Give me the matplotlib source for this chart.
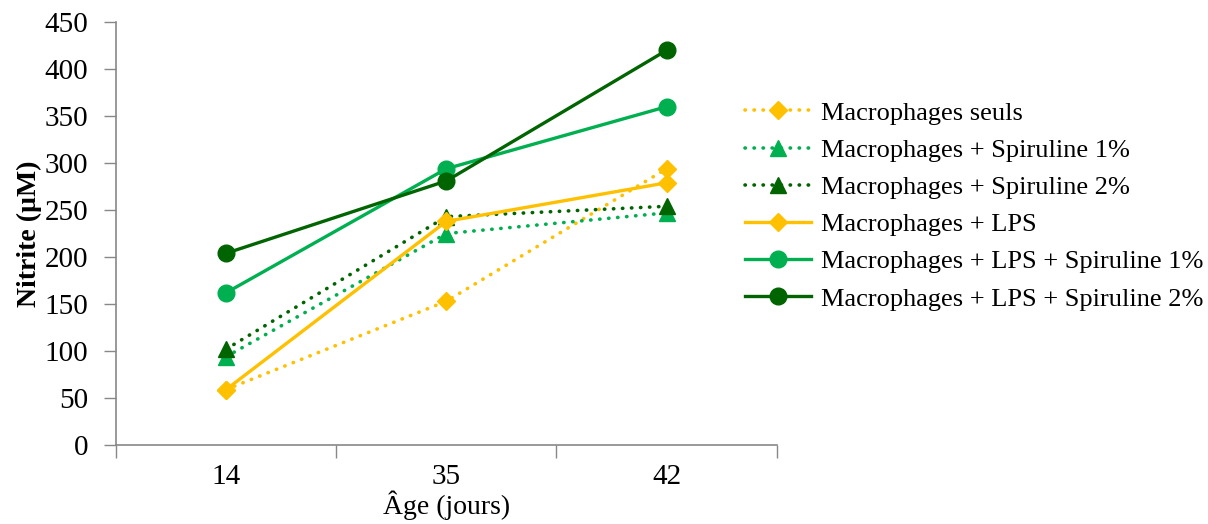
import numpy as np
import matplotlib.pyplot as plt

plt.rcParams['font.family'] = ['Liberation Serif', 'DejaVu Serif']

# données
ages = ['14', '35', '42']
seuls = [59, 153, 294]
spi1 = [94, 225, 247]
spi2 = [102, 243, 254]
lps = [59, 238, 279]
lps_spi1 = [162, 294, 360]
lps_spi2 = [204, 281, 420]

jaune = '#FFC000'
vert = '#00B050'
vert_fonce = '#006400'

series = [
    ('Macrophages seuls', seuls, jaune, 'dot', 'D', 9),
    ('Macrophages + Spiruline 1%', spi1, vert, 'dot', '^', 12),
    ('Macrophages + Spiruline 2%', spi2, vert_fonce, 'dot', '^', 12),
    ('Macrophages + LPS', lps, jaune, 'solid', 'D', 9),
    ('Macrophages + LPS + Spiruline 1%', lps_spi1, vert, 'solid', 'o', 12),
    ('Macrophages + LPS + Spiruline 2%', lps_spi2, vert_fonce, 'solid', 'o', 12),
]

fig = plt.figure(figsize=(12.08, 5.24), dpi=100)
ax = fig.add_axes([0.096, 0.1508, 0.547, 0.807])

x = np.arange(len(ages))
for nom, vals, c, style, m, ms in series:
    if style == 'dot':
        ax.plot(x, vals, color=c, lw=2.6, linestyle=(0, (0.1, 2.4)),
                dash_capstyle='round', marker=m, markersize=ms, label=nom)
    else:
        ax.plot(x, vals, color=c, lw=2.4, marker=m, markersize=ms, label=nom)

ax.set_xlim(-0.5, 2.5)
ax.set_ylim(0, 450)
ax.set_yticks(np.arange(0, 451, 50))
ax.set_xticks([-0.5, 0.5, 1.5, 2.5])
ax.set_xticklabels([])
ax.set_xticks(x, minor=True)
ax.set_xticklabels(ages, minor=True)
ax.tick_params(axis='x', which='major', length=9, color='#888888', width=1)
ax.tick_params(axis='x', which='minor', length=0, pad=14, labelsize=21)
ax.tick_params(axis='y', length=9, color='#888888', width=1, labelsize=21, pad=11)

for s in ['top', 'right']:
    ax.spines[s].set_visible(False)
for s in ['left', 'bottom']:
    ax.spines[s].set_color('#888888')
    ax.spines[s].set_linewidth(1.2)

ax.set_ylabel('Nitrite (µM)', fontsize=20, fontweight='bold', labelpad=2)
ax.set_xlabel('Âge (jours)', fontsize=20, labelpad=0)

ax.legend(loc='center left', bbox_to_anchor=(0.597, 0.607),
          bbox_transform=fig.transFigure, frameon=False, fontsize=19,
          handlelength=2.5, handletextpad=0.38, labelspacing=0.52)

fig.savefig('out.png', dpi=100)
